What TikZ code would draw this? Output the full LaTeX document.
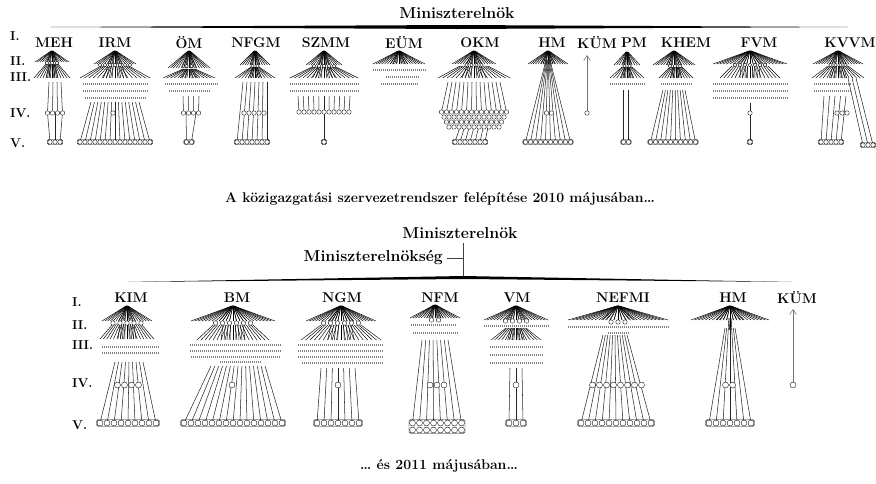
\documentclass[tikz,border=0pt]{standalone}
\usepackage{fontspec}
\usetikzlibrary{arrows.meta, fit}

% name, x top, y top, top half width, x bottom, y bottom, bottom half width, n, style
\newcommand{\fanlines}[9]{%
  \foreach \k in {0,...,#8} {
    \coordinate (#1-a\k) at ({#2-#4+2*#4*\k/#8},#3);
    \coordinate (#1-b\k) at ({#5-#7+2*#7*\k/#8},#6);
    \draw[#9] (#1-a\k) -- (#1-b\k);
  }
}
% a hat: wide fan plus a dense core; name, x, y top, top half width, y bottom, half width, n
\newcommand{\hatfan}[7]{%
  \fanlines{#1}{#2}{#3}{#4}{#2}{#5}{#6}{#7}{fanline}
  \fanlines{#1c}{#2}{#3}{#4/2}{#2}{#5}{#6/3}{8}{fanline}
}
% name, x centre, y, count, spacing, style
\newcommand{\unitrow}[6]{%
  \foreach \k in {1,...,#4} {
    \node[#6] (#1-\k) at ({#2+(\k-(#4+1)/2)*#5},#3) {};
  }
}
\newcommand{\unitframe}[2]{\node[unitbox, fit=(#1-1)(#1-#2)] (#1-frame) {};}
\newcommand{\dashrow}[3]{\draw[dashrow] (#1-#3,#2) -- (#1+#3,#2);}

\begin{document}
\begin{tikzpicture}[
  x=0.3mm, y=-0.3mm,
  fanline/.style={line width=0.4pt},
  trunkline/.style={line width=0.45pt, black!85},
  dashrow/.style={line width=1pt, black!50, dash pattern=on 0.5pt off 1.2pt},
  unit/.style={circle, draw, line width=0.3pt, fill=white, inner sep=0pt, minimum size=1.35mm},
  bigunit/.style={unit, minimum size=1.8mm},
  dotunit/.style={unit, minimum size=1.1mm},
  unitbox/.style={draw, line width=0.3pt, rounded corners=0.5mm, inner sep=0.1mm},
  mlabel/.style={font=\fontsize{12}{14}\selectfont\bfseries},
  headlabel/.style={font=\fontsize{13.5}{15}\selectfont\bfseries},
  lvl/.style={font=\fontsize{11}{13}\selectfont\bfseries, anchor=west},
  captext/.style={font=\fontsize{12}{14}\selectfont\bfseries},
  mainline/.style={line width=0.6pt, black!75},
  kumline/.style={line width=0.5pt, black!55, -{Straight Barb[length=1.5mm, width=2mm]}}
  ]
  \useasboundingbox (0,0) rectangle (876,483);

  % ---------------- 2010 ----------------
  \node[headlabel] (pm1) at (457,13) {Miniszterelnök};
  \fill (50,27) -- (457,25) -- (848,27) -- (457,29) -- cycle;

  \node[lvl] (t-i) at (6,36) {I.};
  \node[lvl] (t-ii) at (6,61) {II.};
  \node[lvl] (t-iii) at (6,77) {III.};
  \node[lvl] (t-iv) at (6,113) {IV.};
  \node[lvl] (t-v) at (6,143) {V.};

  % MEH
  \node[mlabel] (meh) at (54,43) {MEH};
  \hatfan{meh2}{52}{51}{1}{62}{17}{14}
  \hatfan{meh3}{52}{64}{6}{78}{18}{12}
  \unitrow{meh-ii}{52}{63}{3}{5}{dotunit}
  \fanlines{mehT}{55}{82}{6}{55}{113}{7.5}{3}{trunkline}
  \fanlines{mehB}{55}{113}{7.5}{55}{142}{5}{2}{trunkline}
  \unitrow{meh-iv}{55}{113}{4}{5}{unit}
  \unitrow{meh-v}{55}{142}{3}{5}{unit}
  \unitframe{meh-v}{3}

  % IRM
  \node[mlabel] (irm) at (115,43) {IRM};
  \hatfan{irm2}{115}{51}{1}{64}{21}{16}
  \hatfan{irm3}{115}{66}{14}{78}{35}{16}
  \unitrow{irm-ii}{115}{65}{7}{5}{dotunit}
  \dashrow{115}{84}{32} \dashrow{115}{91}{32} \dashrow{115}{98}{30}
  \fanlines{irmT}{115}{102}{24}{115}{142}{35}{14}{trunkline}
  \unitrow{irm-iv}{113}{113}{1}{5}{unit}
  \unitrow{irm-v}{115}{142}{15}{5}{unit}
  \unitframe{irm-v}{15}

  % ÖM
  \node[mlabel] (om) at (189,43) {ÖM};
  \hatfan{om2}{189}{51}{1}{68}{21}{16}
  \hatfan{om3}{189}{69}{6}{78}{26}{14}
  \unitrow{om-ii}{189}{66}{2}{5}{dotunit}
  \dashrow{191}{84}{26} \dashrow{189}{91}{20}
  \fanlines{omT}{191}{96}{8}{191}{113}{7.5}{3}{trunkline}
  \fanlines{omB}{191}{113}{5}{189}{142}{2.5}{1}{trunkline}
  \unitrow{om-iv}{191}{113}{4}{5}{unit}
  \unitrow{om-v}{189}{142}{2}{5}{unit}
  \unitframe{om-v}{2}

  % NFGM
  \node[mlabel] (nfgm) at (256,43) {NFGM};
  \hatfan{nfgm2}{255}{51}{1}{65}{15}{12}
  \hatfan{nfgm3}{255}{67}{4}{78}{20}{12}
  \unitrow{nfgm-ii}{255}{66}{2}{5}{dotunit}
  \fanlines{nfgmT}{255}{82}{12}{252}{142}{15}{6}{trunkline}
  \unitrow{nfgm-iv}{254}{113}{5}{5}{unit}
  \unitrow{nfgm-v}{252}{142}{7}{5}{unit}
  \unitframe{nfgm-v}{7}

  % SZMM
  \node[mlabel] (szmm) at (326,43) {SZMM};
  \hatfan{szmm2}{324}{51}{1}{65}{18}{14}
  \hatfan{szmm3}{324}{67}{12}{78}{34}{16}
  \unitrow{szmm-ii}{324}{66}{5}{5}{dotunit}
  \dashrow{324}{84}{34} \dashrow{324}{91}{34}
  \fanlines{szmmT}{324}{96}{26}{324}{112}{25}{10}{trunkline}
  \unitrow{szmm-iv}{324}{112}{11}{5}{unit}
  \unitrow{szmm-v}{324}{142}{1}{5}{unit}
  \unitframe{szmm-v}{1}
  \draw[trunkline] (szmm-iv-6.south) -- (szmm-v-1.north);

  % EÜM
  \node[mlabel] (eum) at (404,43) {EÜM};
  \hatfan{eum2}{399}{51}{1}{64}{26}{18}
  \dashrow{399}{70}{26} \dashrow{402}{77}{16} \dashrow{399}{84}{18}

  % OKM
  \node[mlabel] (okm) at (480,43) {OKM};
  \hatfan{okm2}{474}{51}{1}{64}{22}{16}
  \hatfan{okm3}{474}{66}{14}{78}{36}{16}
  \unitrow{okm-ii}{474}{65}{4}{5}{dotunit}
  \fanlines{okmT}{474}{82}{26}{474}{112}{32.5}{13}{trunkline}
  \fanlines{okmB}{474}{127}{14}{470}{142}{15}{6}{trunkline}
  \unitrow{okm-iva}{474}{112}{14}{5}{unit}
  \unitrow{okm-ivb}{474}{117}{13}{5}{unit}
  \unitrow{okm-ivc}{474}{122}{12}{5}{unit}
  \unitrow{okm-ivd}{474}{127}{11}{5}{unit}
  \unitrow{okm-v}{470}{142}{7}{5}{unit}
  \unitframe{okm-v}{7}

  % HM
  \node[mlabel] (hm) at (552,43) {HM};
  \hatfan{hm2}{548}{51}{1}{64}{20}{16}
  \fanlines{hmT}{548}{60}{2}{548}{142}{22.5}{9}{trunkline}
  \unitrow{hm-iv}{549}{113}{2}{5}{unit}
  \unitrow{hm-v}{548}{142}{10}{5}{unit}
  \unitframe{hm-v}{10}

  % KÜM
  \node[mlabel] (kum) at (597,43) {KÜM};
  \node[unit] (kum-iv) at (587,113) {};
  \coordinate (kum-top) at (587,55);
  \draw[kumline] (kum-iv) -- (kum-top);

  % PM
  \node[mlabel] (pm) at (634,43) {PM};
  \hatfan{pm2}{627}{52}{1}{65}{13}{10}
  \hatfan{pm3}{627}{67}{5}{78}{17}{10}
  \unitrow{pm-ii}{627}{66}{2}{5}{dotunit}
  \dashrow{627}{84}{17}
  \fanlines{pmT}{626}{90}{2.5}{626}{142}{2.5}{1}{trunkline}
  \unitrow{pm-v}{626}{142}{2}{5}{unit}
  \unitframe{pm-v}{2}

  % KHEM
  \node[mlabel] (khem) at (686,43) {KHEM};
  \hatfan{khem2}{674}{51}{1}{65}{21}{16}
  \hatfan{khem3}{676}{67}{6}{78}{17}{12}
  \unitrow{khem-ii}{675}{66}{3}{5}{dotunit}
  \dashrow{676}{84}{15}
  \fanlines{khemT}{674}{90}{11}{673}{142}{22.5}{9}{trunkline}
  \unitrow{khem-v}{673}{142}{10}{5}{unit}
  \unitframe{khem-v}{10}

  % FVM
  \node[mlabel] (fvm) at (759,43) {FVM};
  \hatfan{fvm2}{750}{51}{1}{64}{37}{22}
  \hatfan{fvm3}{750}{66}{18}{78}{30}{16}
  \unitrow{fvm-ii}{750}{65}{7}{5}{dotunit}
  \dashrow{750}{84}{37} \dashrow{750}{91}{37} \dashrow{750}{98}{37}
  \coordinate (fvm-top) at (750,103);
  \unitrow{fvm-iv}{750}{113}{1}{5}{unit}
  \unitrow{fvm-v}{750}{142}{1}{5}{unit}
  \unitframe{fvm-v}{1}
  \draw[trunkline] (fvm-top) -- (fvm-iv-1.north);
  \draw[trunkline] (fvm-iv-1.south) -- (fvm-v-1.north);

  % KVVM
  \node[mlabel] (kvvm) at (850,43) {KVVM};
  \hatfan{kvvm2}{838}{51}{1}{64}{25}{18}
  \hatfan{kvvm3}{838}{66}{10}{78}{26}{14}
  \unitrow{kvvm-ii}{838}{65}{4}{5}{dotunit}
  \dashrow{832}{84}{18} \dashrow{832}{91}{18}
  \fanlines{kvvmT}{835}{96}{11}{831}{142}{10}{4}{trunkline}
  \fanlines{kvvmX}{852}{78}{4}{868}{145}{5}{2}{trunkline}
  \unitrow{kvvm-iv}{842}{113}{3}{5}{unit}
  \unitrow{kvvm-v}{831}{142}{5}{5}{unit}
  \unitframe{kvvm-v}{5}
  \unitrow{kvvm-x}{868}{145}{3}{5}{unit}
  \unitframe{kvvm-x}{3}

  \node[captext] (cap1) at (440,199) {A közigazgatási szervezetrendszer felépítése 2010 májusában\dots};

  % ---------------- 2011 ----------------
  \node[headlabel] (pm2) at (460,233) {Miniszterelnök};
  \node[headlabel, anchor=east] (pms) at (447,258) {Miniszterelnökség};
  \coordinate (jn) at (463,277);
  \draw[mainline] (pm2.south -| jn) -- (jn);
  \draw[mainline] (pms.east) -- (pms.east -| jn);
  \fill (128,282) -- (463,276) -- (792,282) -- (463,279) -- cycle;

  \node[lvl] (b-i) at (68,302) {I.};
  \node[lvl] (b-ii) at (68,325) {II.};
  \node[lvl] (b-iii) at (68,345) {III.};
  \node[lvl] (b-iv) at (68,383) {IV.};
  \node[lvl] (b-v) at (68,425) {V.};

  % KIM
  \node[mlabel] (kim) at (131,298) {KIM};
  \hatfan{kim2}{127}{306}{1}{321}{25}{18}
  \hatfan{kim3}{127}{324}{14}{339}{27}{16}
  \unitrow{kim-ii}{127}{323}{5}{7}{unit}
  \dashrow{130}{347}{28} \dashrow{130}{353}{28}
  \fanlines{kimT}{129}{362}{14}{128}{423}{28}{8}{trunkline}
  \unitrow{kim-iv}{128}{385}{4}{7}{bigunit}
  \unitrow{kim-v}{128}{423}{9}{7}{bigunit}
  \unitframe{kim-v}{9}

  % BM
  \node[mlabel] (bm) at (237,298) {BM};
  \hatfan{bm2}{233}{306}{1}{321}{42}{24}
  \hatfan{bm3}{233}{325}{20}{340}{36}{18}
  \unitrow{bm-ii}{233}{323}{6}{7}{unit}
  \dashrow{235}{345}{45} \dashrow{235}{351}{45} \dashrow{235}{357}{44}
  \dashrow{240}{362}{20}
  \fanlines{bmT}{238}{366}{27}{233}{423}{49}{14}{trunkline}
  \unitrow{bm-iv}{232}{385}{1}{7}{bigunit}
  \unitrow{bm-v}{233}{423}{15}{7}{bigunit}
  \unitframe{bm-v}{15}

  % NGM
  \node[mlabel] (ngm) at (342,298) {NGM};
  \hatfan{ngm2}{341}{306}{1}{321}{35}{22}
  \hatfan{ngm3}{341}{325}{20}{340}{40}{18}
  \unitrow{ngm-ii}{341}{323}{6}{7}{unit}
  \dashrow{340}{345}{42} \dashrow{340}{351}{42} \dashrow{340}{357}{42} \dashrow{342}{363}{40}
  \fanlines{ngmT}{338}{368}{17}{338}{423}{21}{6}{trunkline}
  \unitrow{ngm-iv}{338}{385}{1}{7}{bigunit}
  \unitrow{ngm-v}{338}{423}{7}{7}{bigunit}
  \unitframe{ngm-v}{7}

  % NFM
  \node[mlabel] (nfm) at (440,298) {NFM};
  \hatfan{nfm2}{435}{305}{1}{318}{25}{18}
  \unitrow{nfm-ii}{435}{320}{2}{7}{unit}
  \dashrow{433}{325}{22} \dashrow{435}{333}{22}
  \fanlines{nfmT}{435}{340}{13}{437}{423}{24.5}{7}{trunkline}
  \unitrow{nfm-iv}{437}{385}{3}{7}{bigunit}
  \unitrow{nfm-v}{437}{423}{8}{7}{bigunit}
  \unitrow{nfm-w}{437}{430}{8}{7}{bigunit}
  \node[unitbox, fit=(nfm-v-1)(nfm-w-8)] (nfm-frame) {};

  % VM
  \node[mlabel] (vm) at (517,298) {VM};
  \hatfan{vm2}{516}{306}{1}{320}{32}{20}
  \unitrow{vm-ii}{516}{321}{4}{7}{unit}
  \dashrow{516}{326}{32}
  \hatfan{vm3}{516}{328}{10}{340}{25}{14}
  \dashrow{516}{347}{26} \dashrow{516}{355}{26} \dashrow{516}{363}{26}
  \fanlines{vmT}{516}{368}{6}{516}{423}{7}{2}{trunkline}
  \unitrow{vm-iv}{516}{385}{1}{7}{bigunit}
  \unitrow{vm-v}{516}{423}{3}{7}{bigunit}
  \unitframe{vm-v}{3}

  % NEFMI
  \node[mlabel] (nefmi) at (623,298) {NEFMI};
  \hatfan{nefmi2}{618}{306}{1}{320}{50}{26}
  \unitrow{nefmi-ii}{618}{322}{3}{7}{unit}
  \dashrow{618}{327}{50}
  \dashrow{618}{333}{10}
  \fanlines{nefmiT}{615}{335}{12}{616}{423}{35}{10}{trunkline}
  \unitrow{nefmi-iv}{617}{385}{8}{7}{bigunit}
  \unitrow{nefmi-v}{616}{423}{11}{7}{bigunit}
  \unitframe{nefmi-v}{11}

  % HM
  \node[mlabel] (hmb) at (733,298) {HM};
  \hatfan{hmb2}{730}{306}{1}{320}{39}{22}
  \fanlines{hmbS}{730}{318}{2}{730}{330}{1}{4}{fanline}
  \fanlines{hmbT}{730}{328}{5}{730}{423}{21}{6}{trunkline}
  \unitrow{hmb-iv}{729}{385}{2}{7}{bigunit}
  \unitrow{hmb-v}{730}{423}{7}{7}{bigunit}
  \unitframe{hmb-v}{7}

  % KÜM
  \node[mlabel] (kumb) at (797,298) {KÜM};
  \node[bigunit] (kumb-iv) at (793,385) {};
  \coordinate (kumb-top) at (793,309);
  \draw[kumline] (kumb-iv) -- (kumb-top);

  \node[captext] (cap2) at (439,466) {\dots{} és 2011 májusában\dots};

\end{tikzpicture}
\end{document}
